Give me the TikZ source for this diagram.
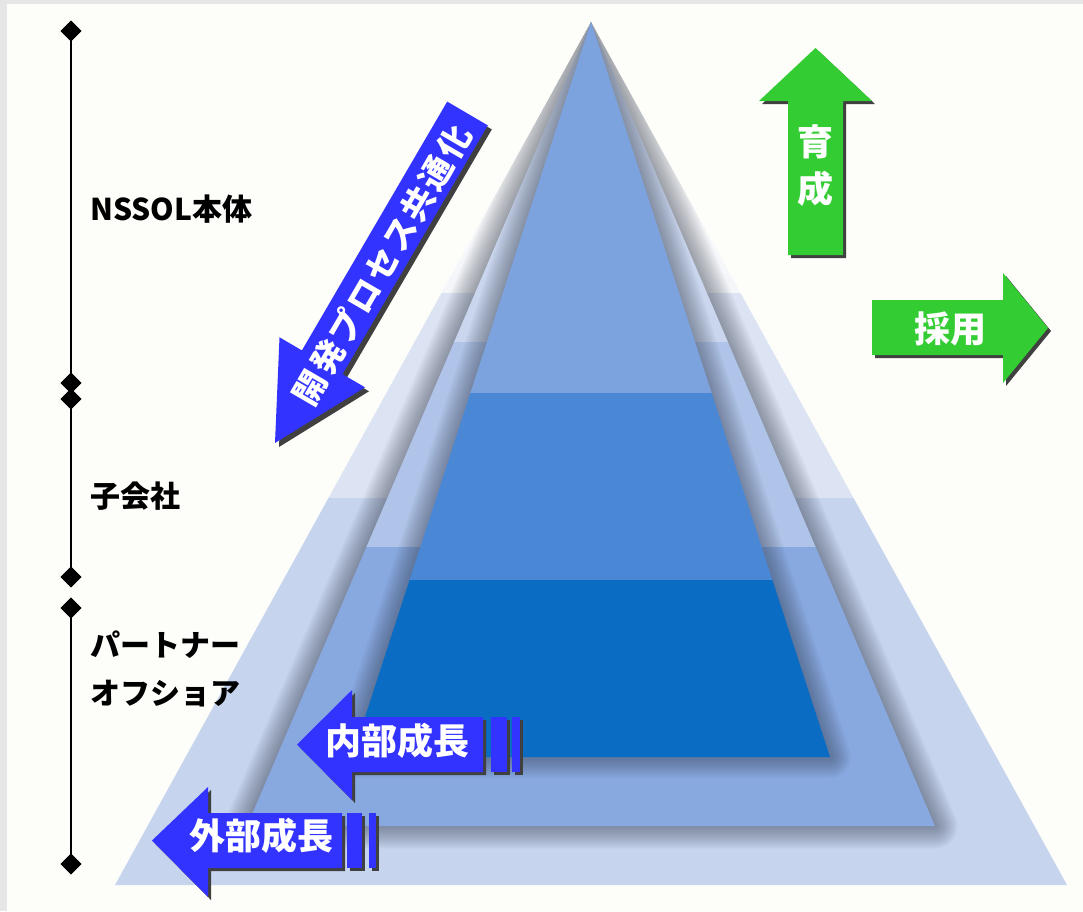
\documentclass[tikz,border=0pt]{standalone}
\usepackage{fontspec}
\setmainfont{Noto Sans CJK JP}
\usetikzlibrary{shapes.geometric}
\definecolor{bgc}{HTML}{FDFDF9}
\definecolor{framec}{HTML}{E6E6E6}
\definecolor{o1}{HTML}{F4F6FA}
\definecolor{o2}{HTML}{DCE4F4}
\definecolor{o3}{HTML}{C6D4EE}
\definecolor{m1}{HTML}{CAD6EE}
\definecolor{m2}{HTML}{B0C4E9}
\definecolor{m3}{HTML}{88A8E0}
\definecolor{i1}{HTML}{7CA3DE}
\definecolor{i2}{HTML}{4A87D4}
\definecolor{i3}{HTML}{0A6CC2}
\definecolor{arrblue}{HTML}{3333FF}
\definecolor{arrgreen}{HTML}{33CC33}
\definecolor{shd}{HTML}{404040}
\definecolor{rimc}{HTML}{303848}
\begin{document}
\begin{tikzpicture}[x=1pt,y=-1pt,
  shadowpoly/.style={fill=shd},
  bluepoly/.style={fill=arrblue},
  greenpoly/.style={fill=arrgreen},
  wtext/.style={text=white, font=\fontsize{36}{47}\selectfont\bfseries, inner sep=0, align=center},
  dtext/.style={text=white, font=\fontsize{33}{40}\selectfont\bfseries\addfontfeature{LetterSpace=8}, inner sep=0},
  ltext/.style={text=black, font=\fontsize{30}{48}\selectfont\bfseries, inner sep=0, anchor=west, align=left},
  tick/.style={diamond, fill=black, minimum width=21pt, minimum height=21pt, inner sep=0},
  rim/.style={draw=rimc, line join=round, opacity=0.035},
  axisline/.style={draw=black, line width=1.2pt},
]
\useasboundingbox (0,0) rectangle (1083,911);
\fill[framec] (0,0) rectangle (1083,911);
\fill[bgc] (7,4) rectangle (1083,911);

% pyramid corners
\coordinate (apex) at (591,22);
\coordinate (oL) at (115,885);
\coordinate (oR) at (1067,885);
\coordinate (mL) at (247,826);
\coordinate (mR) at (935,826);
\coordinate (iL) at (352,757);
\coordinate (iR) at (830,757);

% outer pyramid
\begin{scope}
  \clip (apex) -- (oR) -- (oL) -- cycle;
  \shade[top color=bgc, bottom color=o1] (0,0) rectangle (1083,293);
  \fill[o2] (0,293) rectangle (1083,498);
  \fill[o3] (0,498) rectangle (1083,911);
  % shadow of middle pyramid
  \foreach \w in {3,6,...,45} {
    \draw[rim, line width=\w pt, shift={(0,3)}] (apex) -- (mR) -- (mL) -- cycle;
  }
\end{scope}

% middle pyramid
\begin{scope}
  \clip (apex) -- (mR) -- (mL) -- cycle;
  \fill[m1] (0,0) rectangle (1083,342);
  \fill[m2] (0,342) rectangle (1083,547);
  \fill[m3] (0,547) rectangle (1083,911);
  % shadow of inner pyramid
  \foreach \w in {3,6,...,42} {
    \draw[rim, line width=\w pt, shift={(0,3)}] (apex) -- (iR) -- (iL) -- cycle;
  }
\end{scope}

% inner pyramid
\begin{scope}
  \clip (apex) -- (iR) -- (iL) -- cycle;
  \fill[i1] (0,0) rectangle (1083,393);
  \fill[i2] (0,393) rectangle (1083,580);
  \fill[i3] (0,580) rectangle (1083,911);
\end{scope}

% left axis
\node[tick] (d1) at (71,31) {};
\node[tick] (d2) at (71,383) {};
\node[tick] (d3) at (71,399) {};
\node[tick] (d4) at (71,577) {};
\node[tick] (d5) at (71,608) {};
\node[tick] (d6) at (71,864) {};
\draw[axisline] (d1.center) -- (d2.center);
\draw[axisline] (d3.center) -- (d4.center);
\draw[axisline] (d5.center) -- (d6.center);
\node[tick] at (d1) {};
\node[tick] at (d2) {};
\node[tick] at (d3) {};
\node[tick] at (d4) {};
\node[tick] at (d5) {};
\node[tick] at (d6) {};

\node[ltext] (lab1) at (90,209) {NSSOL本体};
\node[ltext] (lab2) at (90,496) {子会社};
\node[ltext] (lab3) at (90,668.5) {パートナー\\オフショア};

% diagonal blue arrow
\begin{scope}[shift={(4,4)}]
  \fill[shadowpoly] (447.2,101.6) -- (487.8,125.4) -- (342.5,374.2) -- (365.0,387.3) -- (275,443) -- (279.5,337.3) -- (301.9,350.4) -- cycle;
\end{scope}
\fill[bluepoly] (447.2,101.6) -- (487.8,125.4) -- (342.5,374.2) -- (365.0,387.3) -- (275,443) -- (279.5,337.3) -- (301.9,350.4) -- cycle;
\node[dtext, rotate=59.7] (common) at (382,265) {開発プロセス共通化};

% green up arrow
\begin{scope}[shift={(3,3)}]
  \fill[shadowpoly] (788,255) -- (843,255) -- (843,101) -- (872,101) -- (815.5,48) -- (759,101) -- (788,101) -- cycle;
\end{scope}
\fill[greenpoly] (788,255) -- (843,255) -- (843,101) -- (872,101) -- (815.5,48) -- (759,101) -- (788,101) -- cycle;
\node[wtext] (ikusei) at (815.5,166) {育\\成};

% green right arrow
\begin{scope}[shift={(3,3)}]
  \fill[shadowpoly] (872,300) -- (1003,300) -- (1003,273) -- (1048,328) -- (1003,383) -- (1003,355) -- (872,355) -- cycle;
\end{scope}
\fill[greenpoly] (872,300) -- (1003,300) -- (1003,273) -- (1048,328) -- (1003,383) -- (1003,355) -- (872,355) -- cycle;
\node[wtext] (saiyo) at (950,329) {採用};

% inner growth arrow
\begin{scope}[shift={(3,3)}]
  \fill[shadowpoly] (483,717) -- (352,717) -- (352,690) -- (297,744.5) -- (352,800) -- (352,772) -- (483,772) -- cycle;
  \fill[shadowpoly] (491,717) rectangle (507,772);
  \fill[shadowpoly] (512,717) rectangle (520,772);
\end{scope}
\fill[bluepoly] (483,717) -- (352,717) -- (352,690) -- (297,744.5) -- (352,800) -- (352,772) -- (483,772) -- cycle;
\fill[bluepoly] (491,717) rectangle (507,772);
\fill[bluepoly] (512,717) rectangle (520,772);
\node[wtext] (naibu) at (397.5,741) {内部成長};

% outer growth arrow
\begin{scope}[shift={(3,3)}]
  \fill[shadowpoly] (342,813) -- (208,813) -- (208,787) -- (152,840.5) -- (208,897) -- (208,868) -- (342,868) -- cycle;
  \fill[shadowpoly] (347,813) rectangle (362,868);
  \fill[shadowpoly] (369,813) rectangle (376,868);
\end{scope}
\fill[bluepoly] (342,813) -- (208,813) -- (208,787) -- (152,840.5) -- (208,897) -- (208,868) -- (342,868) -- cycle;
\fill[bluepoly] (347,813) rectangle (362,868);
\fill[bluepoly] (369,813) rectangle (376,868);
\node[wtext] (gaibu) at (261.5,836) {外部成長};
\end{tikzpicture}
\end{document}
